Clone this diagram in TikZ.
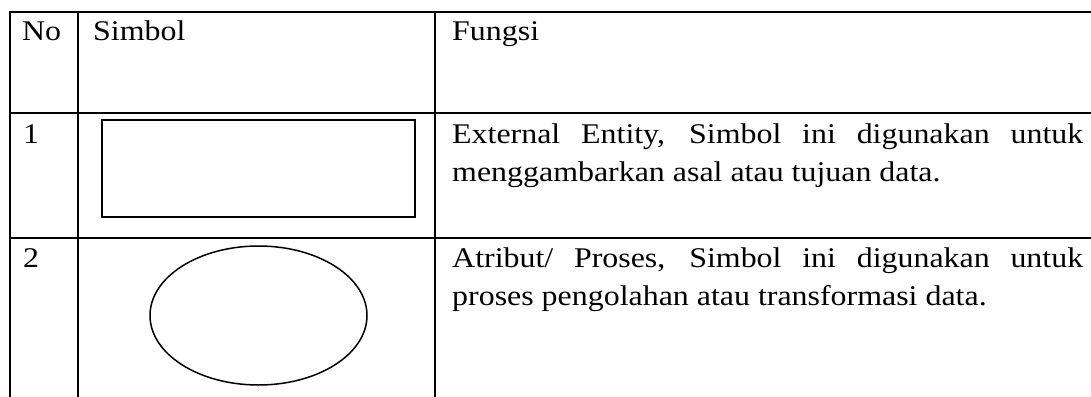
\documentclass[tikz,border=0pt]{standalone}
\usepackage{fontspec}
\setmainfont{Liberation Serif}[FakeStretch=1.12]
\usepackage{tikz}
\usetikzlibrary{shapes,positioning}
\hyphenpenalty=10000
\tolerance=10000

\begin{document}
\begin{tikzpicture}[
    x=1pt, y=-1pt,
    grid/.style={line width=2.4pt, line cap=rect},
    cell/.style={anchor=base west, inner sep=0pt, font=\fontsize{28.5}{38}\selectfont},
    desc/.style={cell, text width=631pt, align=justify},
    sym/.style={draw, line width=1.8pt, inner sep=0pt}
  ]
    \useasboundingbox (0,0) rectangle (1091,396);
    % table rules
    \draw[grid] (1091,12) -- (10,12) -- (10,396);
    \draw[grid] (10,113) -- (1091,113);
    \draw[grid] (10,238) -- (1091,238);
    \draw[grid] (78,12) -- (78,396);
    \draw[grid] (435,12) -- (435,396);
    % header
    \node[cell] (no) at (22,41) {No};
    \node[cell] (simbol) at (93,41) {Simbol};
    \node[cell] (fungsi) at (452,41) {Fungsi};
    % row 1
    \node[cell] (n1) at (23,143) {1};
    \node[sym, rectangle, minimum width=313pt, minimum height=97pt] (entity) at (258.5,168.5) {};
    \node[desc] (d1) at (452,143) {External Entity, Simbol ini digunakan untuk menggambarkan asal atau tujuan data.};
    % row 2
    \node[cell] (n2) at (23,267) {2};
    \node[sym, ellipse, line width=1.5pt, minimum width=217pt, minimum height=139pt] (proses) at (258.5,315.5) {};
    \node[desc] (d2) at (452,267) {Atribut/ Proses, Simbol ini digunakan untuk proses pengolahan atau transformasi data.};
  \end{tikzpicture}
\end{document}
